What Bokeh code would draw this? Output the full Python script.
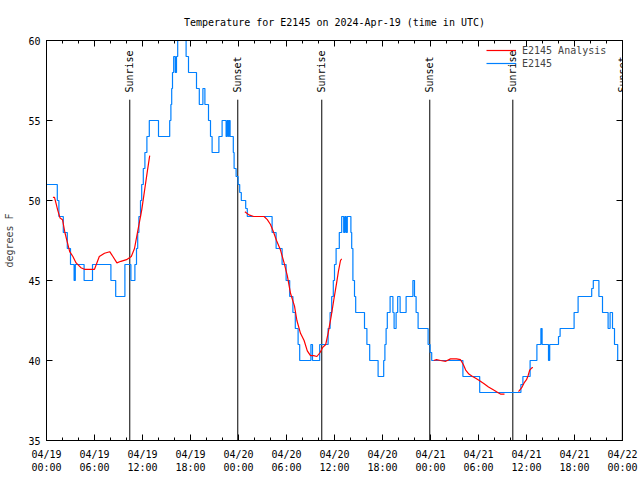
from math import pi
from bokeh.plotting import figure
from bokeh.models import (ColumnDataSource, FixedTicker, LinearAxis, Legend, LegendItem,
                          LabelSet, Range1d)
from bokeh.core.properties import value
from bokeh.embed import file_html
from bokeh.resources import INLINE

# ---------------- data (hours since 2024-04-19 00:00 UTC) ----------------
station_hours = [0.0, 1.35, 1.55, 2.1, 2.6, 3.0, 3.45, 3.6, 4.7, 5.75, 8.05, 8.65, 9.8, 10.55,
                 11.05, 11.25, 11.4, 11.55, 11.75, 11.9, 12.1, 12.3, 12.55, 12.85, 14.0, 15.4,
                 15.55, 15.65, 15.75, 15.9, 16.1, 16.25, 16.4, 17.45, 17.75, 18.75, 19.1, 19.55,
                 19.8, 20.25, 20.5, 20.7, 21.55, 21.95, 22.45, 22.6, 22.75, 22.85, 22.95, 23.35,
                 23.45, 23.7, 23.95, 24.15, 24.35, 24.9, 25.1, 28.2, 28.7, 29.45, 29.95, 30.4,
                 30.8, 31.1, 31.45, 31.65, 33.05, 33.25, 34.15, 35.2, 35.45, 35.65, 35.85, 36.0,
                 36.2, 36.6, 36.9, 37.15, 37.3, 37.45, 37.6, 38.05, 38.15, 38.3, 38.5, 38.65,
                 39.75, 40.05, 40.4, 41.45, 42.15, 42.3, 42.45, 42.6, 42.95, 43.3, 43.45, 43.7,
                 43.9, 44.2, 44.95, 45.8, 46.0, 46.2, 46.45, 47.7, 47.95, 48.15, 52.05, 54.15,
                 59.3, 59.55, 60.45, 61.3, 61.8, 61.95, 62.75, 62.9, 64.0, 64.2, 65.95, 66.45,
                 68.15, 68.35, 69.05, 69.5, 70.2, 70.45, 70.75, 71.0, 71.4, 72.0]
station_temps = [51, 50, 49, 48, 47, 46, 45, 46, 45, 46, 45, 44, 46, 45,
                 46, 47, 48, 49, 50, 51, 52, 53, 54, 55, 54, 55,
                 56, 57, 58, 59, 58, 59, 61, 59, 58, 57, 56, 57,
                 56, 55, 54, 53, 54, 55, 54, 55, 54, 55, 54, 53,
                 52, 51.5, 51, 50.5, 50, 49.5, 49, 48, 47, 46, 45, 44,
                 43, 42, 41, 40, 41, 40, 41, 42, 43, 44, 45, 46,
                 47, 48, 49, 48, 49, 48, 49, 48, 47, 45, 44, 43,
                 42, 41, 40, 39, 40, 41, 42, 43, 44, 43, 42, 43,
                 44, 43, 44, 45, 44, 43, 42, 41, 40.5, 40, 39, 38,
                 38.5, 39, 40, 41, 42, 41, 40, 41, 41.5, 42, 43, 44,
                 44.5, 45, 44, 43, 42, 43, 42, 41, 40, 40]

analysis1_hours = [0.8, 1.0, 1.2, 1.4, 1.7, 2.0, 2.3, 2.6, 2.9, 3.3, 3.7, 4.3, 4.75, 6.0, 6.6,
                   7.25, 7.9, 8.3, 8.8, 9.3, 10.0, 10.6, 11.0, 11.3, 11.6, 11.9, 12.25, 12.6, 12.9]
analysis1_temps = [50.2, 50.2, 49.8, 49.4, 48.9, 48.8, 48.0, 47.4, 46.8, 46.5, 46.1, 45.8, 45.7,
                   45.7, 46.5, 46.7, 46.8, 46.5, 46.1, 46.2, 46.3, 46.5, 47.0, 47.8, 48.6, 49.4,
                   50.6, 51.8, 52.8]
analysis2_hours = [24.8, 25.3, 25.9, 26.3, 27.2, 27.6, 28.0, 28.4, 28.75, 29.25, 29.7, 30.1, 30.5,
                   31.0, 31.3, 31.75, 32.2, 32.6, 33.0, 33.4, 33.8, 34.2, 34.5, 34.9, 35.2, 35.6,
                   35.9, 36.25, 36.5, 36.75, 36.9]
analysis2_temps = [49.3, 49.1, 49.0, 49.0, 49.0, 48.8, 48.5, 48.0, 47.5, 46.9, 46.1, 45.3, 44.2,
                   43.4, 42.5, 41.7, 41.25, 40.6, 40.3, 40.3, 40.25, 40.5, 40.8, 41.0, 41.7, 42.8,
                   43.75, 44.8, 45.6, 46.25, 46.35]
analysis3_hours = [48.4, 48.75, 49.25, 49.9, 50.5, 51.25, 51.75, 52.1, 52.4, 52.8, 53.25, 53.6,
                   54.1, 54.7, 55.25, 55.9, 56.4, 56.75, 57.25]
analysis3_temps = [40.0, 40.05, 40.0, 39.95, 40.1, 40.1, 40.05, 39.75, 39.4, 39.15, 39.0, 38.9,
                   38.75, 38.55, 38.35, 38.15, 38.0, 37.9, 37.9]
analysis4_hours = [59.0, 59.4, 59.7, 60.0, 60.2, 60.4, 60.7, 60.8]
analysis4_temps = [38.05, 38.3, 38.6, 38.8, 39.05, 39.4, 39.55, 39.55]

event_hours = [10.41, 23.91, 34.41, 47.91, 58.29, 71.98]
event_names = ["Sunrise", "Sunset", "Sunrise", "Sunset", "Sunrise", "Sunset"]

x_tick_hours = [0, 6, 12, 18, 24, 30, 36, 42, 48, 54, 60, 66, 72]
x_tick_labels = ["04/19\n00:00", "04/19\n06:00", "04/19\n12:00", "04/19\n18:00",
                 "04/20\n00:00", "04/20\n06:00", "04/20\n12:00", "04/20\n18:00",
                 "04/21\n00:00", "04/21\n06:00", "04/21\n12:00", "04/21\n18:00",
                 "04/22\n00:00"]
y_ticks = [35, 40, 45, 50, 55, 60]

TITLE = "Temperature for E2145 on 2024-Apr-19 (time in UTC)"
# -------------------------------------------------------------------------

FONT = "DejaVu Sans Mono"
FS = "10px"
RED = "#ff0000"
BLUE = "#0080ff"

p = figure(width=640, height=480, output_backend="svg", toolbar_location=None,
           x_range=Range1d(0, 72), y_range=Range1d(35, 60),
           min_border_left=46, min_border_right=18, min_border_top=40, min_border_bottom=40,
           background_fill_color="white", border_fill_color="white")

p.title.text = TITLE
p.title.align = "center"
p.title.text_font = FONT
p.title.text_font_size = FS
p.title.text_font_style = "normal"
p.title.text_color = "black"
p.title.standoff = 26

p.outline_line_color = "black"
p.outline_line_alpha = 1.0
p.xgrid.visible = False
p.ygrid.visible = False

minor_x = list(range(0, 73, 2))


def style_axis(ax, labels=True):
    ax.axis_line_color = "black"
    ax.major_tick_line_color = "black"
    ax.minor_tick_line_color = "black"
    ax.major_tick_in = 6
    ax.major_tick_out = 0
    ax.minor_tick_in = 3
    ax.minor_tick_out = 0
    ax.major_label_text_font = FONT
    ax.major_label_text_font_size = FS if labels else "0px"
    ax.major_label_text_color = "black"
    ax.major_label_standoff = 5 if labels else 0


# bottom axis
xa = p.xaxis[0]
xa.ticker = FixedTicker(ticks=x_tick_hours, minor_ticks=minor_x)
xa.major_label_overrides = dict(zip(x_tick_hours, x_tick_labels))
style_axis(xa)
xa.major_label_text_line_height = 1.25
xa.major_label_standoff = 8

# left axis
ya = p.yaxis[0]
ya.ticker = FixedTicker(ticks=y_ticks, minor_ticks=[])
style_axis(ya)
ya.major_label_standoff = 6
ya.axis_label = "degrees F"
ya.axis_label_text_font = FONT
ya.axis_label_text_font_size = FS
ya.axis_label_text_font_style = "normal"
ya.axis_label_standoff = 10

# mirrored axes (ticks only)
top = LinearAxis(ticker=FixedTicker(ticks=x_tick_hours, minor_ticks=minor_x))
style_axis(top, labels=False)
top.major_label_overrides = {t: "" for t in x_tick_hours}
p.add_layout(top, "above")
right = LinearAxis(ticker=FixedTicker(ticks=y_ticks, minor_ticks=[]))
style_axis(right, labels=False)
right.major_label_overrides = {t: "" for t in y_ticks}
p.add_layout(right, "right")

# sunrise / sunset markers
p.segment(x0=event_hours, y0=35, x1=event_hours, y1=56.3, line_color="black", line_width=1)
ev_src = ColumnDataSource(dict(x=event_hours, name=event_names))
p.add_layout(LabelSet(x="x", y=56.75, text="name", source=ev_src, angle=pi / 2,
                      text_align="left", text_baseline="middle", text_font=value(FONT),
                      text_font_size=value(FS), text_color="black"))

# series
blue = p.step(station_hours, station_temps, mode="after", line_color=BLUE, line_width=1.2)
red = p.multi_line(xs=[analysis1_hours, analysis2_hours, analysis3_hours, analysis4_hours],
                   ys=[analysis1_temps, analysis2_temps, analysis3_temps, analysis4_temps],
                   line_color=RED, line_width=1.2)

legend = Legend(items=[LegendItem(label="E2145 Analysis", renderers=[red]),
                       LegendItem(label="E2145", renderers=[blue])],
                location=(440, 371), border_line_color=None, background_fill_alpha=0,
                label_text_font=FONT, label_text_font_size=FS, glyph_width=30,
                glyph_height=12, label_height=12, spacing=1, padding=3, margin=0,
                label_standoff=6)
p.add_layout(legend)

open("out.html", "w").write(file_html(p, INLINE))
